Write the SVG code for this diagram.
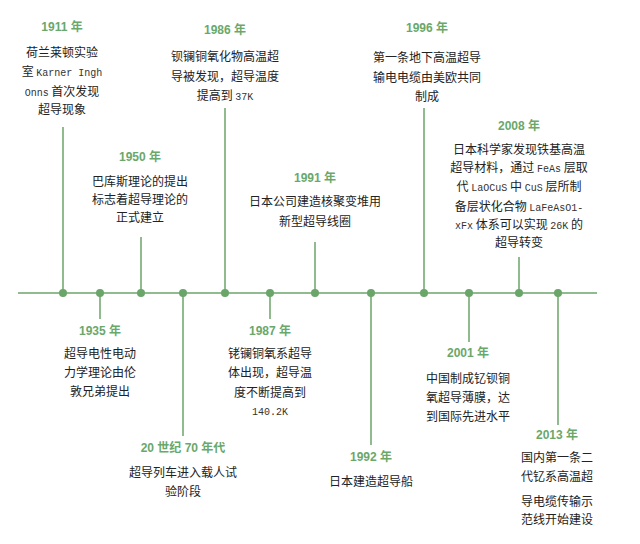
<svg xmlns="http://www.w3.org/2000/svg" width="640" height="544" viewBox="0 0 640 544">
<style>
.yr{font-family:"Liberation Sans","Noto Sans CJK SC",sans-serif;font-size:12px;font-weight:bold;fill:#6aa86a;text-anchor:middle}
.t{font-family:"Noto Sans CJK SC","Noto Sans",sans-serif;font-size:12px;fill:#222;text-anchor:middle}
.m{font-family:"Liberation Mono",monospace;font-size:10px;fill:#333}
.ln{stroke:#6aa56a;stroke-width:1.5;fill:none}
.dot{fill:#6aa56a}
</style>
<rect width="640" height="544" fill="#fff"/>
<g id="connectors">
<line class="ln" x1="18" y1="293" x2="597" y2="293"/>
<line class="ln" x1="63" y1="127" x2="63" y2="293"/>
<line class="ln" x1="141" y1="237" x2="141" y2="293"/>
<line class="ln" x1="225" y1="108" x2="225" y2="293"/>
<line class="ln" x1="315" y1="242" x2="315" y2="293"/>
<line class="ln" x1="424" y1="108" x2="424" y2="293"/>
<line class="ln" x1="519" y1="257" x2="519" y2="293"/>
<line class="ln" x1="100" y1="293" x2="100" y2="319"/>
<line class="ln" x1="183" y1="293" x2="183" y2="436"/>
<line class="ln" x1="270" y1="293" x2="270" y2="319"/>
<line class="ln" x1="371" y1="293" x2="371" y2="445"/>
<line class="ln" x1="469" y1="293" x2="469" y2="342"/>
<line class="ln" x1="558" y1="293" x2="558" y2="425"/>
<circle class="dot" cx="63" cy="293" r="4"/>
<circle class="dot" cx="100" cy="293" r="4"/>
<circle class="dot" cx="141" cy="293" r="4"/>
<circle class="dot" cx="183" cy="293" r="4"/>
<circle class="dot" cx="225" cy="293" r="4"/>
<circle class="dot" cx="270" cy="293" r="4"/>
<circle class="dot" cx="315" cy="293" r="4"/>
<circle class="dot" cx="371" cy="293" r="4"/>
<circle class="dot" cx="424" cy="293" r="4"/>
<circle class="dot" cx="469" cy="293" r="4"/>
<circle class="dot" cx="519" cy="293" r="4"/>
<circle class="dot" cx="558" cy="293" r="4"/>
</g>
<g id="n1911">
<text class="yr" x="62" y="31">1911 年</text>
<text class="t" x="62" y="57">荷兰莱顿实验</text>
<text class="t" x="62" y="76">室 <tspan class="m">Karner Ingh</tspan></text>
<text class="t" x="62" y="96"><tspan class="m">Onns</tspan> 首次发现</text>
<text class="t" x="62" y="114">超导现象</text>
</g>
<g id="n1986">
<text class="yr" x="225" y="34">1986 年</text>
<text class="t" x="225" y="61">钡镧铜氧化物高温超</text>
<text class="t" x="225" y="81">导被发现，超导温度</text>
<text class="t" x="225" y="100">提高到 <tspan class="m">37K</tspan></text>
</g>
<g id="n1996">
<text class="yr" x="427" y="32">1996 年</text>
<text class="t" x="427" y="62">第一条地下高温超导</text>
<text class="t" x="427" y="82">输电电缆由美欧共同</text>
<text class="t" x="427" y="101">制成</text>
</g>
<g id="n2008">
<text class="yr" x="519" y="130">2008 年</text>
<text class="t" x="519" y="154">日本科学家发现铁基高温</text>
<text class="t" x="519" y="172">超导材料，通过 <tspan class="m">FeAs</tspan> 层取</text>
<text class="t" x="519" y="191">代 <tspan class="m">LaOCuS</tspan> 中 <tspan class="m">CuS</tspan> 层所制</text>
<text class="t" x="519" y="211">备层状化合物 <tspan class="m">LaFeAsO1-</tspan></text>
<text class="t" x="519" y="229"><tspan class="m">xFx</tspan> 体系可以实现 <tspan class="m">26K</tspan> 的</text>
<text class="t" x="519" y="247">超导转变</text>
</g>
<g id="n1950">
<text class="yr" x="140" y="161">1950 年</text>
<text class="t" x="140" y="186">巴库斯理论的提出</text>
<text class="t" x="140" y="204">标志着超导理论的</text>
<text class="t" x="140" y="222">正式建立</text>
</g>
<g id="n1991">
<text class="yr" x="315" y="182">1991 年</text>
<text class="t" x="315" y="206">日本公司建造核聚变堆用</text>
<text class="t" x="315" y="226">新型超导线圈</text>
</g>
<g id="n1935">
<text class="yr" x="100" y="335">1935 年</text>
<text class="t" x="100" y="358">超导电性电动</text>
<text class="t" x="100" y="377">力学理论由伦</text>
<text class="t" x="100" y="396">敦兄弟提出</text>
</g>
<g id="n1987">
<text class="yr" x="270" y="335">1987 年</text>
<text class="t" x="270" y="358">铑镧铜氧系超导</text>
<text class="t" x="270" y="377">体出现，超导温</text>
<text class="t" x="270" y="397">度不断提高到</text>
<text class="t" x="270" y="415"><tspan class="m">140.2K</tspan></text>
</g>
<g id="n2001">
<text class="yr" x="468" y="357">2001 年</text>
<text class="t" x="468" y="383">中国制成钇钡铜</text>
<text class="t" x="468" y="402">氧超导薄膜，达</text>
<text class="t" x="468" y="421">到国际先进水平</text>
</g>
<g id="n1970s">
<text class="yr" x="183" y="452">20 世纪 70 年代</text>
<text class="t" x="183" y="477">超导列车进入载人试</text>
<text class="t" x="183" y="496">验阶段</text>
</g>
<g id="n1992">
<text class="yr" x="371" y="461">1992 年</text>
<text class="t" x="371" y="486">日本建造超导船</text>
</g>
<g id="n2013">
<text class="yr" x="557" y="439">2013 年</text>
<text class="t" x="557" y="462">国内第一条二</text>
<text class="t" x="557" y="481">代钇系高温超</text>
<text class="t" x="557" y="506">导电缆传输示</text>
<text class="t" x="557" y="524">范线开始建设</text>
</g>
</svg>
